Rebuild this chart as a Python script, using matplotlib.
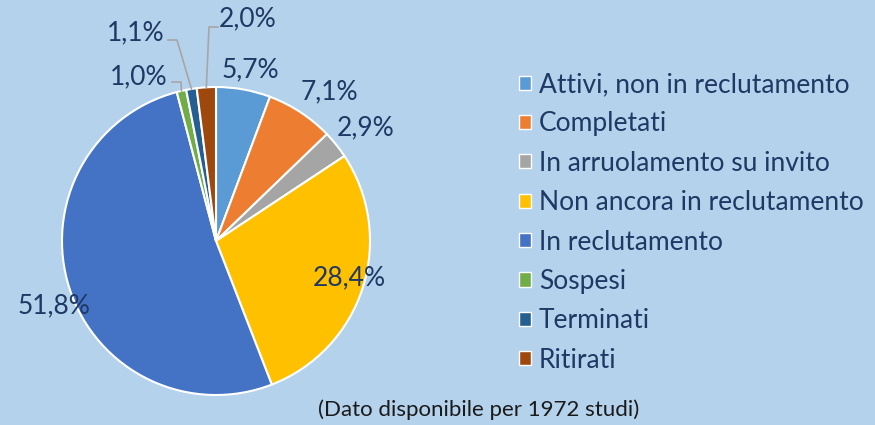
import matplotlib
matplotlib.use("Agg")
import matplotlib.pyplot as plt
import numpy as np
from matplotlib.patches import Patch

categories = ["Attivi, non in reclutamento", "Completati", "In arruolamento su invito",
              "Non ancora in reclutamento", "In reclutamento", "Sospesi", "Terminati", "Ritirati"]
values = [5.7, 7.1, 2.9, 28.4, 51.8, 1.0, 1.1, 2.0]
value_labels = ["5,7%", "7,1%", "2,9%", "28,4%", "51,8%", "1,0%", "1,1%", "2,0%"]
colors = ["#5B9BD5", "#ED7D31", "#A5A5A5", "#FFC000", "#4472C4", "#70AD47", "#255E91", "#9E480E"]
caption = "(Dato disponibile per 1972 studi)"

BG = "#B4D2EC"
TXT = "#1F3864"
FONT = "Lato"
W, H = 875, 425

fig = plt.figure(figsize=(W / 100, H / 100), dpi=100, facecolor=BG)
ax = fig.add_axes([0, 0, 1, 1])
ax.set_facecolor(BG)

cx, cy, R = 216, H - 241, 154
wedges, _ = ax.pie(values, colors=colors, startangle=90, counterclock=False,
                   center=(cx, cy), radius=R, frame=True,
                   wedgeprops=dict(edgecolor="white", linewidth=1.5))
ax.set_xlim(0, W)
ax.set_ylim(0, H)
ax.set_aspect("equal")
ax.axis("off")

# label positions (pixel coords from top-left)
label_pos = [(250, 70), (329, 92), (366, 128), (349, 278), (54, 306),
             (139, 77), (136, 33), (248, 19)]
for i, (lab, (px, py)) in enumerate(zip(value_labels, label_pos)):
    ax.text(px, H - py, lab, ha="center", va="center", fontsize=19,
            color=TXT, family=FONT)

# leader lines for small slices
elbows = {5: [(172, 82), (181, 82)], 6: [(168, 40), (177, 40)], 7: [(218, 27), (209, 27)]}
for i, pts in elbows.items():
    w = wedges[i]
    mid = np.deg2rad((w.theta1 + w.theta2) / 2)
    ax_, ay_ = cx + R * np.cos(mid), cy + R * np.sin(mid)
    xs = [p[0] for p in pts] + [ax_]
    ys = [H - p[1] for p in pts] + [ay_]
    ax.plot(xs, ys, color="#A6A6A6", lw=1.2)

handles = [Patch(facecolor=c, edgecolor="white", linewidth=1) for c in colors]
leg = ax.legend(handles, categories, loc="upper left", bbox_to_anchor=(519 / W, 1 - 72 / H),
                frameon=False, prop=dict(family=FONT, size=19),
                handlelength=0.45, handleheight=0.45, handletextpad=0.3, labelspacing=0.545,
                borderaxespad=0, borderpad=0)
for t in leg.get_texts():
    t.set_color(TXT)

ax.text(479, H - 410, caption, ha="center", va="center", fontsize=16, color="#1a1a1a", family=FONT)

fig.savefig("out.png", dpi=100, facecolor=BG)
